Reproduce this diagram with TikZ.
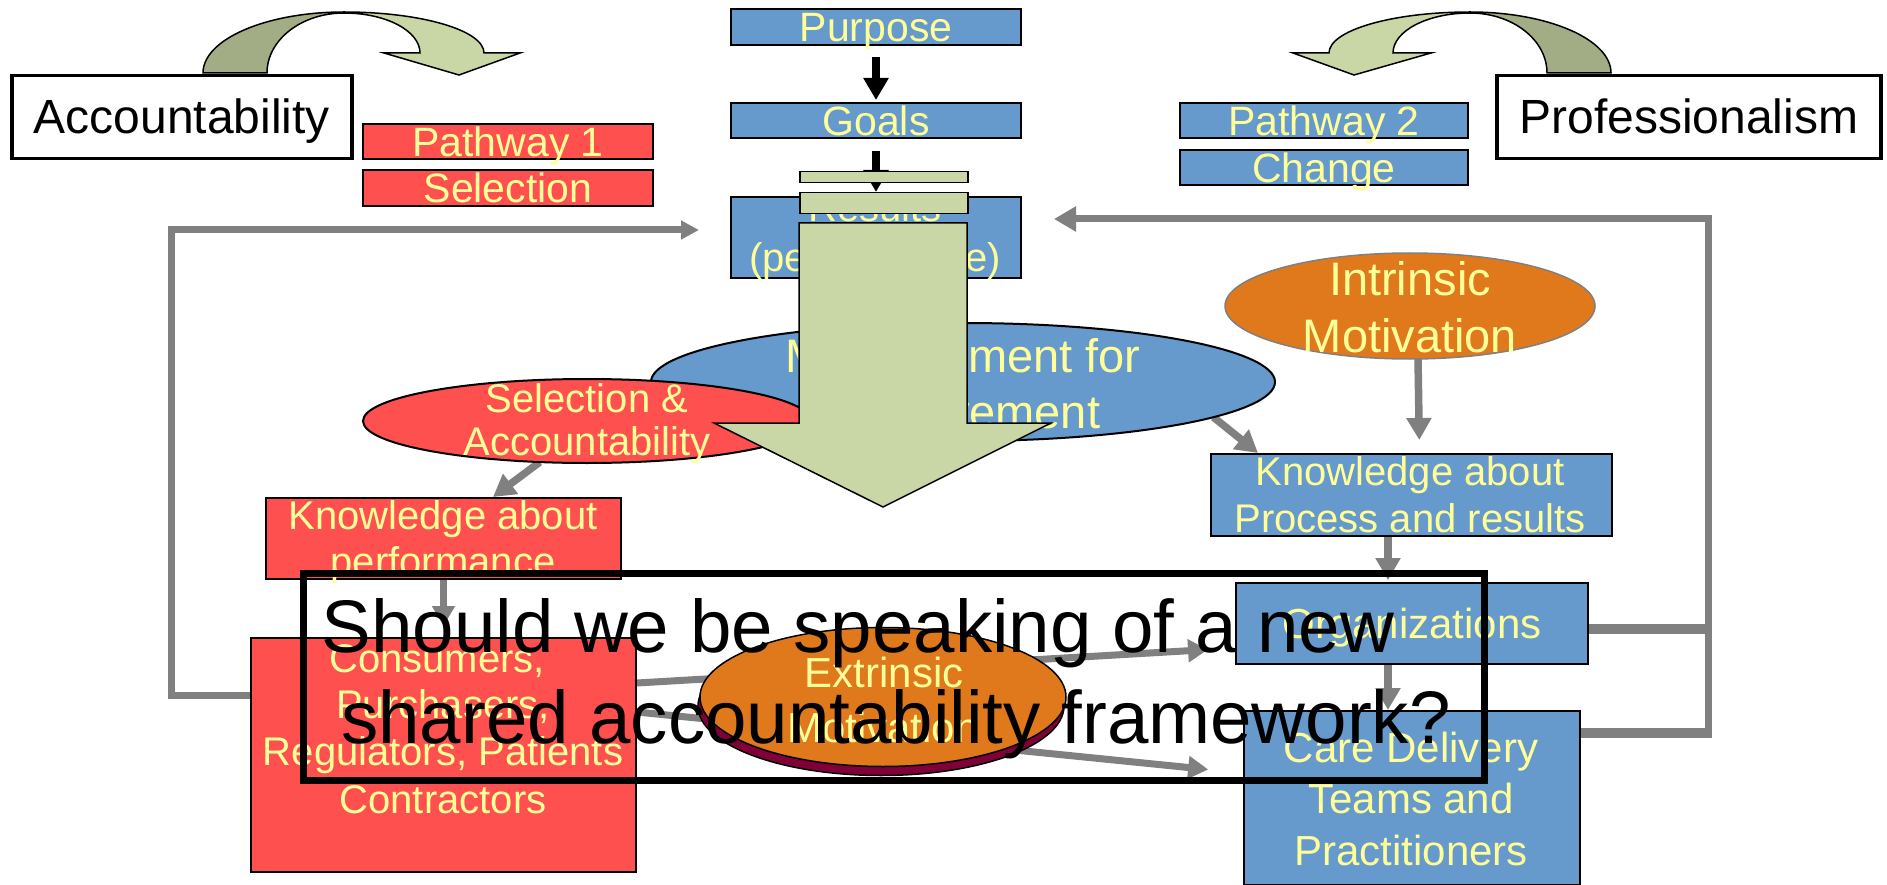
\documentclass[tikz,border=0pt]{standalone}
\usepackage{fontspec}
\setmainfont{Liberation Sans}
\usetikzlibrary{arrows.meta,calc,shapes.geometric}
\definecolor{pblue}{HTML}{6699CC}
\definecolor{pred}{HTML}{FF5050}
\definecolor{pyel}{HTML}{FFFF99}
\definecolor{porange}{HTML}{E0781C}
\definecolor{pmaroon}{HTML}{800038}
\definecolor{plgreen}{HTML}{C9D7A7}
\definecolor{pdgreen}{HTML}{A3AD85}
\definecolor{pgray}{HTML}{808080}
\newcommand\pxf[1]{\fontsize{#1}{#1}\selectfont}
\pgfdeclarelayer{bg}
\pgfsetlayers{bg,main}
\begin{document}
\begin{tikzpicture}[x=1pt,y=-1pt,
  box/.style={draw=black,line width=2pt,inner sep=0pt,anchor=north west,text=pyel},
  ytxt/.style={text=pyel,inner sep=0pt,anchor=base},
  oval/.style={ellipse,inner sep=0pt,outer sep=0pt,draw=black,line width=2pt},
  gline/.style={draw=pgray,line width=7pt},
  garrow/.style={draw=pgray,line width=7.5pt,-{Triangle[width=24pt,length=22pt]}},
  garrowb/.style={draw=pgray,line width=7pt,-{Triangle[width=22pt,length=20pt]}},
  barrow/.style={draw=black,line width=8pt,-{Triangle[width=24pt,length=22pt]}},
  greenpart/.style={fill=plgreen,draw=black,line width=1.5pt},
  darkpart/.style={fill=pdgreen,draw=black,line width=1.5pt},
]
\useasboundingbox (0,0) rectangle (1887,885);

% ---------- title boxes ----------
\node[box,fill=white,line width=3.5pt,text=black,minimum width=340pt,minimum height=83pt,
  font=\pxf{48},text height=33pt,text depth=0pt] (acc) at (10,74) {Accountability};
\node[box,fill=white,line width=3.5pt,text=black,minimum width=384pt,minimum height=83pt,
  font=\pxf{48},text height=33pt,text depth=0pt] (prof) at (1495,74) {Professionalism};

% ---------- curved arrows ----------
\path[darkpart] (203,73) arc[start angle=180,end angle=90,x radius=141pt,y radius=61pt]
  -- (344,13) arc[start angle=90,end angle=180,x radius=77pt,y radius=60pt] -- cycle;
\path[greenpart] (344,12) arc[start angle=90,end angle=0,x radius=140pt,y radius=41pt]
  -- (520,53) -- (459,75) -- (384,53) -- (420,53)
  arc[start angle=0,end angle=90,x radius=76pt,y radius=40pt] -- cycle;
\path[darkpart] (1611,73) arc[start angle=0,end angle=90,x radius=141pt,y radius=61pt]
  -- (1470,13) arc[start angle=90,end angle=0,x radius=77pt,y radius=60pt] -- cycle;
\path[greenpart] (1470,12) arc[start angle=90,end angle=180,x radius=141pt,y radius=41pt]
  -- (1293,53) -- (1354,75) -- (1431,53) -- (1393,53)
  arc[start angle=180,end angle=90,x radius=77pt,y radius=40pt] -- cycle;

% ---------- pathway labels ----------
\node[box,fill=pred,minimum width=290pt,minimum height=35pt,font=\pxf{41},text height=29.4pt,text depth=0pt] (path1) at (362,123) {Pathway 1};
\node[box,fill=pred,minimum width=290pt,minimum height=36pt,font=\pxf{41},text height=29.4pt,text depth=0pt] (sel1) at (362,169) {Selection};
\node[box,fill=pblue,minimum width=288pt,minimum height=35pt,font=\pxf{41},text height=29.4pt,text depth=0pt] (path2) at (1179,102) {Pathway 2};
\node[box,fill=pblue,minimum width=288pt,minimum height=35pt,font=\pxf{41},text height=29.4pt,text depth=0pt] (chg) at (1179,149) {Change};

% ---------- central column ----------
\node[box,fill=pblue,minimum width=290pt,minimum height=36pt,font=\pxf{41},text height=29.4pt,text depth=0pt] (purpose) at (730,8) {Purpose};
\node[box,fill=pblue,minimum width=290pt,minimum height=35pt,font=\pxf{41},text height=29.4pt,text depth=0pt] (goals) at (730,102) {Goals};
\node[box,fill=pblue,minimum width=290pt,minimum height=81pt] (res) at (730,196) {};
\node[ytxt,font=\pxf{40}] (resT1) at (875,222) {Results};
\node[ytxt,font=\pxf{40}] (resT2) at (875,272) {(performance)};
\draw[barrow] ($(purpose.south)+(0,11)$) -- ($(goals.north)+(0,-2)$);
\draw[barrow] ($(goals.south)+(0,12)$) -- ($(res.north)+(0,-4)$);

% ---------- ellipses ----------
\node[oval,fill=pblue,minimum width=624pt,minimum height=118pt] (meas) at (963,382) {};
\node[ytxt,font=\pxf{47}] (measT1) at (963,372) {Measurement for};
\node[ytxt,font=\pxf{47}] (measT2) at (963,428) {Improvement};
\node[oval,fill=pred,minimum width=448pt,minimum height=84pt] (selacc) at (587,421) {};
\node[ytxt,font=\pxf{40}] (selT1) at (587,412) {Selection \&};
\node[ytxt,font=\pxf{40}] (selT2) at (587,455) {Accountability};
\node[oval,fill=porange,draw=pgray,line width=1.5pt,minimum width=370pt,minimum height=106pt] (intr) at (1410,306) {};
\node[ytxt,font=\pxf{47}] (intrT1) at (1410,295) {Intrinsic};
\node[ytxt,font=\pxf{47}] (intrT2) at (1410,352) {Motivation};

% ---------- green bars and big down arrow ----------
\node[box,greenpart,minimum width=168pt,minimum height=11pt] (gbar1) at (799,171) {};
\node[box,greenpart,minimum width=168pt,minimum height=21pt] (gbar2) at (799,192) {};
\path[greenpart] (799,223) -- (967,223) -- (967,423) -- (1051,423) -- (883,507)
  -- (714,423) -- (799,423) -- cycle;

% ---------- knowledge boxes ----------
\node[box,fill=pred,minimum width=355pt,minimum height=81pt] (kperf) at (265,497) {};
\node[ytxt,font=\pxf{40}] (kperfT1) at (443,529) {Knowledge about};
\node[ytxt,font=\pxf{40}] (kperfT2) at (443,575) {performance};
\node[box,fill=pblue,minimum width=401pt,minimum height=82pt] (kproc) at (1210,453) {};
\node[ytxt,font=\pxf{40}] (kprocT1) at (1410,485) {Knowledge about};
\node[ytxt,font=\pxf{40}] (kprocT2) at (1410,532) {Process and results};

% ---------- lower boxes ----------
\node[box,fill=pblue,minimum width=352pt,minimum height=81pt,font=\pxf{42},text height=30pt,text depth=0pt] (org) at (1235,582) {Organizations};
\node[box,fill=pblue,minimum width=336pt,minimum height=174pt] (care) at (1243,710) {};
\node[ytxt,font=\pxf{42}] (careT1) at (1411,762) {Care Delivery};
\node[ytxt,font=\pxf{42}] (careT2) at (1411,813) {Teams and};
\node[ytxt,font=\pxf{42}] (careT3) at (1411,865) {Practitioners};
\node[box,fill=pred,minimum width=385pt,minimum height=234pt] (cons) at (250,637) {};
\node[ytxt,font=\pxf{40}] (consT1) at (437,672) {Consumers,};
\node[ytxt,font=\pxf{40}] (consT2) at (443,718) {Purchasers,};
\node[ytxt,font=\pxf{40}] (consT3) at (443,765) {Regulators, Patients};
\node[ytxt,font=\pxf{40}] (consT4) at (443,813) {Contractors};

% ---------- connectors (background) ----------
\begin{pgfonlayer}{bg}
\draw[gline,-{Triangle[width=18pt,length=18pt]}] ($(cons.north west)+(0,58)$) -- ++(-79,0) |- ($(res.west)+(-31,-7.5)$);
\draw[gline,-{Triangle[width=24pt,length=22pt]}] ($(care.north east)+(0,23)$) -- ++(127,0) |- ($(res.east)+(32,-18.5)$);
\draw[draw=pgray,line width=10pt] ($(org.east)+(0,5.5)$) -- ++(122.5,0);
\draw[draw=pgray,line width=10pt] ($(care.north east)+(0,23)$) -- ++(130.5,0);
\draw[garrow] (meas.-8.2) -- ($(kproc.north west)+(48,0)$);
\draw[garrow] (selacc.-139.4) -- ($(kperf.north west)+(228,0)$);
\draw[garrow,shorten >=13pt] ($(intr.south)+(8,0)$) -- ($(kproc.north)+(8,0)$);
\draw[garrow] ($(kproc.south)+(-23.5,0)$) -- ($(org.north)+(-24,-2)$);
\draw[garrow] ($(org.south)+(-24,0)$) -- ($(care.north)+(-24,0)$);
\draw[garrowb,shorten >=11pt] (kperf.south) -- (cons.north);
\draw[garrowb,shorten >=27pt] ($(cons.north east)+(0,46)$) -- ($(org.west)+(0,24.5)$);
\draw[garrowb,shorten >=35pt] ($(cons.north east)+(0,75)$) -- ($(care.west)+(0,-25)$);
\end{pgfonlayer}

% ---------- extrinsic motivation ----------
\node[oval,fill=pmaroon,line width=1.5pt,minimum width=366pt,minimum height=139pt] (extrS) at (881,706) {};
\node[oval,fill=porange,line width=1.5pt,minimum width=366pt,minimum height=139pt] (extr) at (883,697) {};
\node[ytxt,font=\pxf{42}] (extrT1) at (884,687) {Extrinsic};
\node[ytxt,font=\pxf{42}] (extrT2) at (883,742) {Motivation};

% ---------- question box ----------
\node[draw=black,line width=6.5pt,inner sep=0pt,anchor=north west,minimum width=1181pt,minimum height=207pt] (qbox) at (300,570) {};
\node[inner sep=0pt,anchor=base,font=\pxf{74.5}] (q1) at (858,652) {Should we be speaking of a new};
\node[inner sep=0pt,anchor=base,font=\pxf{74.5}] (q2) at (896,743) {shared accountability framework?};
\end{tikzpicture}
\end{document}
